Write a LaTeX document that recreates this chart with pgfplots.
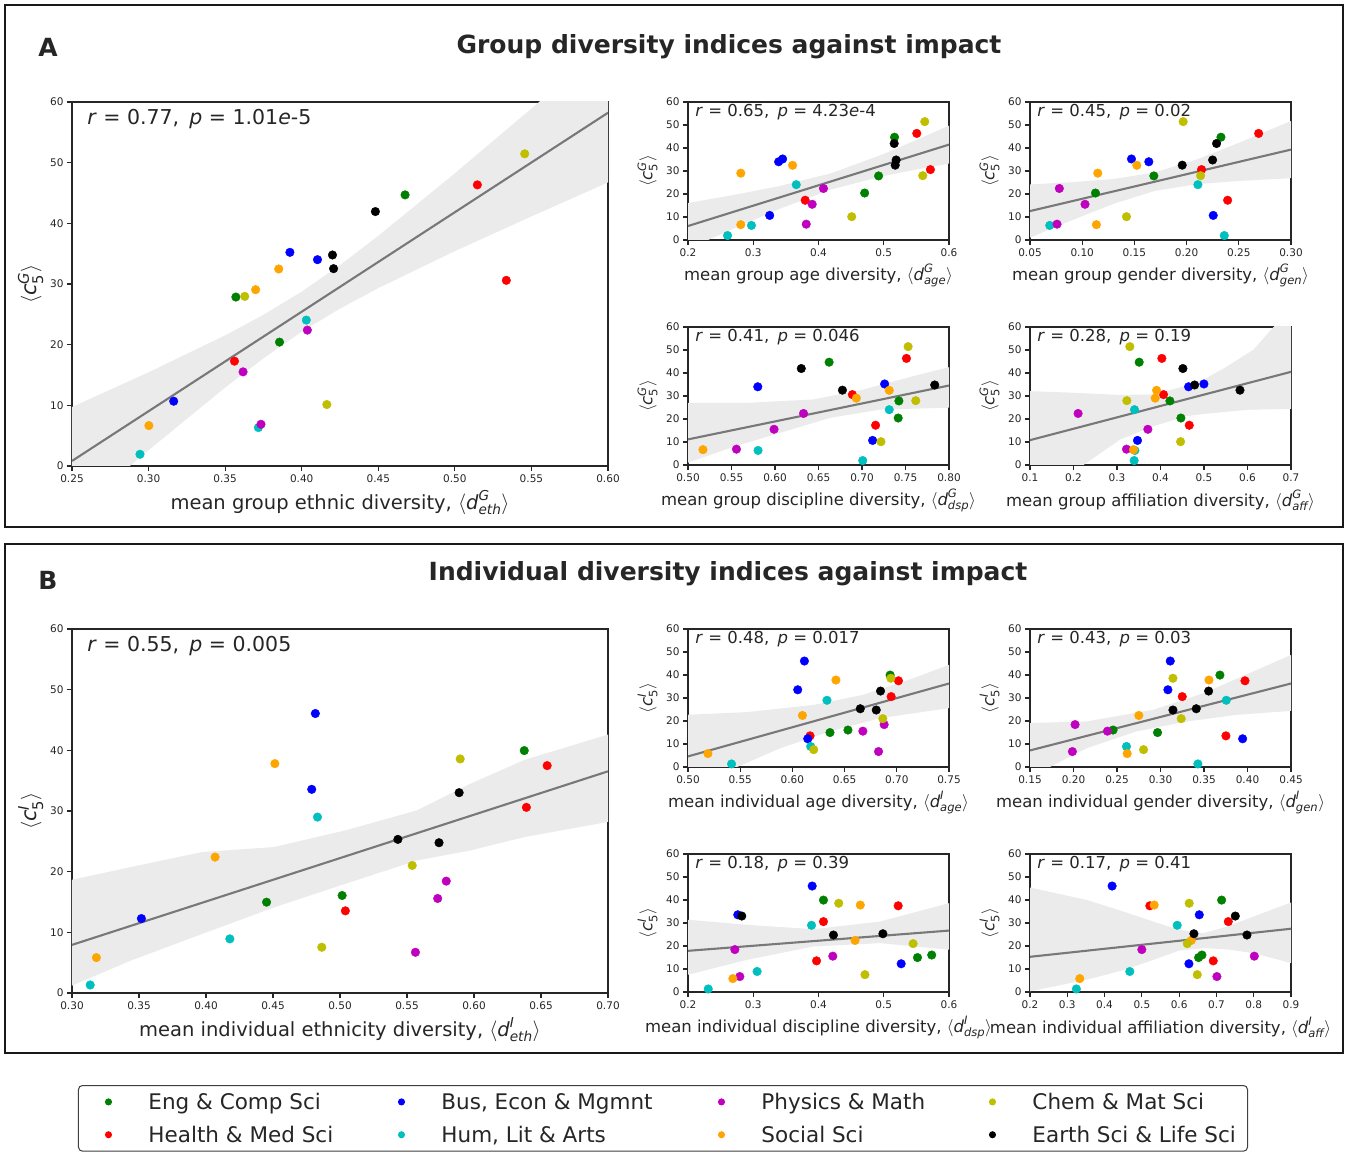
\documentclass[border=0pt]{standalone}
\usepackage{amsmath}
\usepackage{fontspec}
\setmainfont{DejaVu Sans}
\usepackage{pgfplots}
\usepackage{pgfplotstable}
\pgfplotsset{compat=1.18}

\definecolor{cg}{rgb}{0,0.5,0}
\definecolor{cr}{rgb}{1,0,0}
\definecolor{cb}{rgb}{0,0,1}
\definecolor{cc}{rgb}{0,0.75,0.75}
\definecolor{cm}{rgb}{0.75,0,0.75}
\definecolor{co}{rgb}{1,0.647,0}
\definecolor{cy}{rgb}{0.75,0.75,0}
\definecolor{ck}{rgb}{0,0,0}
\definecolor{bandc}{rgb}{0.922,0.922,0.922}
\definecolor{linec}{rgb}{0.47,0.47,0.47}

% group level: cat, <c5^G>, d_eth, d_age, d_gen, d_dsp, d_aff
\pgfplotstableread{
cat c eth age gen dsp aff
g 27.85 0.3570 0.4921 0.1686 0.7424 0.4216
g 20.42 0.3855 0.4707 0.1127 0.7416 0.4469
g 44.69 0.4675 0.5165 0.2329 0.6622 0.3510
r 17.28 0.3561 0.3796 0.2393 0.7156 0.4661
r 46.34 0.5147 0.5506 0.2690 0.7511 0.4031
r 30.60 0.5336 0.5715 0.2143 0.6889 0.4070
b 10.68 0.3164 0.3252 0.2255 0.7122 0.3471
b 35.22 0.3923 0.3450 0.1472 0.7260 0.4998
b 34.01 0.4103 0.3389 0.1638 0.5802 0.4645
c 1.93 0.2944 0.2606 0.2361 0.7008 0.3394
c 6.33 0.3717 0.2972 0.0689 0.5805 0.3410
c 24.05 0.4030 0.3659 0.2108 0.7313 0.3402
m 15.52 0.3617 0.3903 0.1027 0.5989 0.3709
m 6.88 0.3734 0.3812 0.0759 0.5557 0.3218
m 22.40 0.4037 0.4076 0.0781 0.6328 0.2105
o 6.66 0.3002 0.2809 0.1136 0.5172 0.3379
o 29.06 0.3699 0.2809 0.1149 0.6935 0.3878
o 32.47 0.3850 0.3603 0.1523 0.7313 0.3909
y 27.96 0.3628 0.5598 0.2134 0.7618 0.3226
y 10.13 0.4164 0.4509 0.1424 0.7218 0.4461
y 51.46 0.5456 0.5628 0.1967 0.7530 0.3295
k 34.78 0.4201 0.5190 0.2249 0.7836 0.4784
k 32.53 0.4208 0.5176 0.1958 0.6775 0.5827
k 41.94 0.4481 0.5160 0.2287 0.6302 0.4515
}\tabA

% individual level
\pgfplotstableread{
cat c eth age gen dsp aff
g 14.97 0.4452 0.6360 0.2966 0.5517 0.6521
g 16.07 0.5016 0.6532 0.2455 0.5735 0.6611
g 39.96 0.6375 0.6936 0.3683 0.4076 0.7139
r 13.54 0.5040 0.6169 0.3752 0.3970 0.6915
r 30.60 0.6391 0.6946 0.3250 0.4076 0.7318
r 37.48 0.6546 0.7016 0.3971 0.5221 0.5214
b 12.27 0.3518 0.6147 0.3944 0.5267 0.6262
b 46.07 0.4816 0.6115 0.3112 0.3903 0.4202
b 33.57 0.4789 0.6051 0.3085 0.2763 0.6540
c 1.32 0.3136 0.5417 0.3430 0.2310 0.3244
c 8.92 0.4178 0.6175 0.2609 0.3059 0.4677
c 29.00 0.4832 0.6331 0.3756 0.3893 0.5948
m 6.71 0.5563 0.6825 0.1987 0.2794 0.7013
m 15.58 0.5729 0.6675 0.2390 0.4219 0.8016
m 18.44 0.5793 0.6879 0.2018 0.2718 0.4999
o 5.83 0.3182 0.5191 0.2617 0.2687 0.3334
o 22.40 0.4068 0.6096 0.2751 0.4560 0.6324
o 37.81 0.4514 0.6417 0.3557 0.4641 0.5330
y 7.54 0.4864 0.6204 0.2805 0.4712 0.6486
y 21.02 0.5539 0.6866 0.3238 0.5450 0.6217
y 38.58 0.5897 0.6943 0.3143 0.4310 0.6270
k 25.32 0.5432 0.6650 0.3411 0.4987 0.6396
k 24.77 0.5739 0.6803 0.3143 0.4229 0.7819
k 33.02 0.5889 0.6844 0.3553 0.2824 0.7506
}\tabB

\newcommand\ylabA{$\langle\textit{c}^{\textit{G}}_{\text{5}}\rangle$}
\newcommand\ylabB{$\langle\textit{c}^{\textit{I}}_{\text{5}}\rangle$}
\newcommand\dl[2]{$\langle\textit{d}^{\textit{#1}}_{\textit{#2}}\rangle$}
\newcommand\ann[2]{\textit{r} = #1,\enspace\textit{p} = #2}

\pgfplotsset{
  common/.style={
    scale only axis, anchor=south west, clip=true,
    ymin=0, ymax=60, ytick={0,10,20,30,40,50,60},
    yticklabels={0,10,20,30,40,50,60},
    tick align=outside, tick pos=left, major tick length=5pt,
    tick style={draw=black!85, line width=1.1pt},
    axis line style={draw=black!85, line width=1.1pt},
    ticklabel style={font=\fontsize{10.5}{12}\selectfont, text=black!85},
    scatter/classes={
      g={mark=*,draw=cg,fill=cg}, r={mark=*,draw=cr,fill=cr},
      b={mark=*,draw=cb,fill=cb}, c={mark=*,draw=cc,fill=cc},
      m={mark=*,draw=cm,fill=cm}, o={mark=*,draw=co,fill=co},
      y={mark=*,draw=cy,fill=cy}, k={mark=*,draw=ck,fill=ck}},
  },
  bigax/.style={common, width=536pt, height=364pt,
    xlabel style={at={(axis description cs:0.5,-0.10)}, anchor=center,
      font=\fontsize{19.5}{23}\selectfont, text=black!85},
    ylabel style={at={(axis description cs:-0.077,0.5)}, anchor=center,
      font=\fontsize{21}{25}\selectfont, text=black!85}},
  smallax/.style={common, width=261pt, height=138pt,
    xlabel style={at={(axis description cs:0.5,-0.255)}, anchor=center,
      font=\fontsize{16.5}{20}\selectfont, text=black!85},
    ylabel style={at={(axis description cs:-0.155,0.5)}, anchor=center,
      font=\fontsize{16.5}{20}\selectfont, text=black!85}},
  band/.style={fill=bandc, draw=none, forget plot},
  regl/.style={color=linec, line width=2.1pt, forget plot},
  pts/.style={scatter, only marks, mark size=4.3pt, scatter src=explicit symbolic, forget plot},
  legimg/.style={only marks, mark=*, mark size=3pt,
    legend image code/.code={\path[draw=none, fill=none] (-20pt,0pt) -- (40pt,0pt);
      \draw[##1] plot coordinates {(0pt,0pt)};}},
}
\newcommand\bigann[1]{\node[anchor=west, font=\fontsize{20.5}{24}\selectfont, text=black!85] at (rel axis cs:0.022,0.953) {#1};}
\newcommand\smallann{\node[anchor=west, font=\fontsize{16.5}{19}\selectfont, text=black!85] at (rel axis cs:0.015,0.925)}
\newcommand\lt[2]{\makebox[#1][l]{\rule[-6pt]{0pt}{22pt}#2}}

\begin{document}
\begin{tikzpicture}
\useasboundingbox (0pt,0pt) rectangle (1347pt,1153pt);
\fill[white] (0pt,0pt) rectangle (1347pt,1153pt);
\draw[line width=1.4pt, black!90] (5pt,626pt) rectangle (1343pt,1148pt);
\draw[line width=1.4pt, black!90] (5pt,100pt) rectangle (1343pt,609pt);
\node[font=\fontsize{25}{30}\selectfont\bfseries, text=black!85] at (48pt,1106pt) {A};
\node[font=\fontsize{25}{30}\selectfont\bfseries, text=black!85] at (729pt,1106pt) {Group diversity indices against impact};
\node[font=\fontsize{25}{30}\selectfont\bfseries, text=black!85] at (48pt,573pt) {B};
\node[font=\fontsize{25}{30}\selectfont\bfseries, text=black!85] at (728pt,579pt) {Individual diversity indices against impact};

% ---------------- Panel A big: ethnic ----------------
\begin{axis}[bigax, at={(72pt,687pt)},
  xmin=0.25, xmax=0.60,
  xtick={0.25,0.30,0.35,0.40,0.45,0.50,0.55,0.60},
  xticklabels={0.25,0.30,0.35,0.40,0.45,0.50,0.55,0.60},
  xlabel={mean group ethnic diversity, \dl{G}{eth}},
  ylabel={\ylabA},
  legend columns=4, legend cell align=left,
  legend style={at={(axis description cs:0.01119,-1.7006)}, anchor=north west,
    draw=black!75, line width=1pt, rounded corners=4pt, fill=white,
    inner xsep=10pt, inner ysep=7.5pt, column sep=0pt, row sep=15pt,
    nodes={inner sep=0pt}, font=\fontsize{21.5}{26}\selectfont, text=black!85},
]
\addplot[band] coordinates {(0.25,9.72) (0.30,15.44) (0.35,21.53) (0.375,24.91) (0.40,28.73) (0.425,33.11) (0.45,37.93) (0.50,48.24) (0.55,58.92) (0.60,69.71)
 (0.60,46.75) (0.55,41.14) (0.50,35.42) (0.45,29.33) (0.425,25.95) (0.40,22.13) (0.375,17.75) (0.35,12.93) (0.30,2.62) (0.25,-8.06)} -- cycle;
\addplot[regl] coordinates {(0.25,0.83) (0.60,58.23)};
\addplot[pts] table[x=eth, y=c, meta=cat] {\tabA};
\bigann{\ann{0.77}{1.01\textit{e}-5}}
\addlegendimage{legimg, color=cg}\addlegendentry{\lt{233pt}{Eng \& Comp Sci}}
\addlegendimage{legimg, color=cb}\addlegendentry{\lt{260pt}{Bus, Econ \& Mgmnt}}
\addlegendimage{legimg, color=cm}\addlegendentry{\lt{211pt}{Physics \& Math}}
\addlegendimage{legimg, color=cy}\addlegendentry{\lt{205pt}{Chem \& Mat Sci}}
\addlegendimage{legimg, color=cr}\addlegendentry{\lt{233pt}{Health \& Med Sci}}
\addlegendimage{legimg, color=cc}\addlegendentry{\lt{260pt}{Hum, Lit \& Arts}}
\addlegendimage{legimg, color=co}\addlegendentry{\lt{211pt}{Social Sci}}
\addlegendimage{legimg, color=ck}\addlegendentry{\lt{205pt}{Earth Sci \& Life Sci}}
\end{axis}

% ---------------- A age ----------------
\begin{axis}[smallax, at={(688pt,913pt)},
  xmin=0.2, xmax=0.6, xtick={0.2,0.3,0.4,0.5,0.6}, xticklabels={0.2,0.3,0.4,0.5,0.6},
  xlabel={mean group age diversity, \dl{G}{age}}, ylabel={\ylabA}]
\addplot[band] coordinates {(0.2,16.05) (0.27,19.57) (0.34,23.41) (0.42,29.04) (0.50,37.40) (0.55,43.45) (0.60,49.71)
 (0.60,33.23) (0.55,30.65) (0.50,27.84) (0.42,22.04) (0.34,13.51) (0.27,4.97) (0.2,-3.91)} -- cycle;
\addplot[regl] coordinates {(0.2,6.07) (0.6,41.47)};
\addplot[pts] table[x=age, y=c, meta=cat] {\tabA};
\smallann{\ann{0.65}{4.23\textit{e}-4}};
\end{axis}

% ---------------- A gender ----------------
\begin{axis}[smallax, at={(1030pt,913pt)},
  xmin=0.05, xmax=0.30, xtick={0.05,0.10,0.15,0.20,0.25,0.30}, xticklabels={0.05,0.10,0.15,0.20,0.25,0.30},
  xlabel={mean group gender diversity, \dl{G}{gen}}, ylabel={\ylabA}]
\addplot[band] coordinates {(0.05,24.14) (0.09,25.12) (0.13,26.51) (0.17,29.40) (0.21,35.06) (0.25,42.22) (0.30,51.73)
 (0.30,26.87) (0.25,25.68) (0.21,24.28) (0.17,21.40) (0.13,15.73) (0.09,8.58) (0.05,1.00)} -- cycle;
\addplot[regl] coordinates {(0.05,12.57) (0.30,39.30)};
\addplot[pts] table[x=gen, y=c, meta=cat] {\tabA};
\smallann{\ann{0.45}{0.02}};
\end{axis}

% ---------------- A discipline ----------------
\begin{axis}[smallax, at={(688pt,688pt)},
  xmin=0.50, xmax=0.80, xtick={0.50,0.55,0.60,0.65,0.70,0.75,0.80}, xticklabels={0.50,0.55,0.60,0.65,0.70,0.75,0.80},
  xlabel={mean group discipline diversity, \dl{G}{dsp}}, ylabel={\ylabA}]
\addplot[band] coordinates {(0.50,27.0) (0.5679,27.0) (0.6443,28.5) (0.7015,32.8) (0.7588,38.6) (0.80,42.5)
 (0.80,24.9) (0.7206,24.1) (0.6634,20.5) (0.6061,14.0) (0.5489,7.5) (0.50,1.0)} -- cycle;
\addplot[regl] coordinates {(0.5,11.13) (0.8,34.55)};
\addplot[pts] table[x=dsp, y=c, meta=cat] {\tabA};
\smallann{\ann{0.41}{0.046}};
\end{axis}

% ---------------- A affiliation ----------------
\begin{axis}[smallax, at={(1030pt,688pt)},
  xmin=0.1, xmax=0.7, xtick={0.1,0.2,0.3,0.4,0.5,0.6,0.7}, xticklabels={0.1,0.2,0.3,0.4,0.5,0.6,0.7},
  xlabel={mean group affiliation diversity, \dl{G}{aff}}, ylabel={\ylabA}]
\addplot[band] coordinates {(0.1,32.1) (0.2,31.4) (0.3,30.5) (0.384,30.6) (0.45,34.0) (0.5,37.2) (0.55,42.5) (0.6142,50.2) (0.66,60) (0.7,68.5)
 (0.7,24.4) (0.6,24.0) (0.5,22.2) (0.4607,21.25) (0.384,16.9) (0.3072,11.1) (0.2228,0) (0.1,-16)} -- cycle;
\addplot[regl] coordinates {(0.1,10.8) (0.7,40.5)};
\addplot[pts] table[x=aff, y=c, meta=cat] {\tabA};
\smallann{\ann{0.28}{0.19}};
\end{axis}

% ---------------- Panel B big: ethnicity ----------------
\begin{axis}[bigax, at={(72pt,160pt)},
  xmin=0.30, xmax=0.70,
  xtick={0.30,0.35,0.40,0.45,0.50,0.55,0.60,0.65,0.70},
  xticklabels={0.30,0.35,0.40,0.45,0.50,0.55,0.60,0.65,0.70},
  xlabel={mean individual ethnicity diversity, \dl{I}{eth}},
  ylabel={\ylabB}]
\addplot[band] coordinates {(0.30,18.66) (0.3438,20.75) (0.3972,23.23) (0.4506,24.05) (0.504,26.8) (0.5574,30.1) (0.5974,34.5) (0.6375,38.4) (0.70,42.6)
 (0.70,28.2) (0.6375,25.7) (0.5974,23.5) (0.5574,21.85) (0.504,18.0) (0.4506,14.1) (0.3972,9.74) (0.3438,5.34) (0.30,1.21)} -- cycle;
\addplot[regl] coordinates {(0.30,7.93) (0.70,36.54)};
\addplot[pts] table[x=eth, y=c, meta=cat] {\tabB};
\bigann{\ann{0.55}{0.005}}
\end{axis}

% ---------------- B age ----------------
\begin{axis}[smallax, at={(688pt,386pt)},
  xmin=0.50, xmax=0.75, xtick={0.50,0.55,0.60,0.65,0.70,0.75}, xticklabels={0.50,0.55,0.60,0.65,0.70,0.75},
  xlabel={mean individual age diversity, \dl{I}{age}}, ylabel={\ylabB}]
\addplot[band] coordinates {(0.50,22.7) (0.5567,23.85) (0.6204,27.0) (0.6682,31.4) (0.7159,38.6) (0.75,44.4)
 (0.75,25.6) (0.684,21.25) (0.6363,15.5) (0.5885,8.2) (0.5471,0) (0.50,-9.3)} -- cycle;
\addplot[regl] coordinates {(0.5,4.6) (0.75,36.3)};
\addplot[pts] table[x=age, y=c, meta=cat] {\tabB};
\smallann{\ann{0.48}{0.017}};
\end{axis}

% ---------------- B gender ----------------
\begin{axis}[smallax, at={(1030pt,386pt)},
  xmin=0.15, xmax=0.45, xtick={0.15,0.20,0.25,0.30,0.35,0.40,0.45}, xticklabels={0.15,0.20,0.25,0.30,0.35,0.40,0.45},
  xlabel={mean individual gender diversity, \dl{I}{gen}}, ylabel={\ylabB}]
\addplot[band] coordinates {(0.15,19.1) (0.2152,19.8) (0.292,24.9) (0.3496,32.1) (0.45,48.7)
 (0.45,24.4) (0.3879,22.7) (0.3303,19.8) (0.2728,15.5) (0.2152,8.2) (0.173,0) (0.15,-4.5)} -- cycle;
\addplot[regl] coordinates {(0.15,7.2) (0.45,36.3)};
\addplot[pts] table[x=gen, y=c, meta=cat] {\tabB};
\smallann{\ann{0.43}{0.03}};
\end{axis}

% ---------------- B discipline ----------------
\begin{axis}[smallax, at={(688pt,161pt)},
  xmin=0.2, xmax=0.6, xtick={0.2,0.3,0.4,0.5,0.6}, xticklabels={0.2,0.3,0.4,0.5,0.6},
  xlabel={mean individual discipline diversity, \dl{I}{dsp}}, ylabel={\ylabB}]
\addplot[band] coordinates {(0.2,31.4) (0.2906,29.2) (0.3924,27.3) (0.4941,30.6) (0.6,38.6)
 (0.6,18.4) (0.4941,21.25) (0.3924,19.8) (0.2906,14.0) (0.2,7.5)} -- cycle;
\addplot[regl] coordinates {(0.2,17.9) (0.6,26.7)};
\addplot[pts] table[x=dsp, y=c, meta=cat] {\tabB};
\smallann{\ann{0.18}{0.39}};
\end{axis}

% ---------------- B affiliation ----------------
\begin{axis}[smallax, at={(1030pt,161pt)},
  xmin=0.2, xmax=0.9, xtick={0.2,0.3,0.4,0.5,0.6,0.7,0.8,0.9}, xticklabels={0.2,0.3,0.4,0.5,0.6,0.7,0.8,0.9},
  xlabel={mean individual affiliation diversity, \dl{I}{aff}}, ylabel={\ylabB}]
\addplot[band] coordinates {(0.2,45.4) (0.3522,40.0) (0.45,35.0) (0.5312,30.6) (0.6,27.0) (0.6655,25.6) (0.73,28.5) (0.7998,32.8) (0.9,38.9)
 (0.9,12.6) (0.7998,16.9) (0.73,18.5) (0.6655,19.1) (0.6,18.0) (0.5312,14.0) (0.45,9.5) (0.3522,5.35) (0.2,0.3)} -- cycle;
\addplot[regl] coordinates {(0.2,15.3) (0.9,27.5)};
\addplot[pts] table[x=aff, y=c, meta=cat] {\tabB};
\smallann{\ann{0.17}{0.41}};
\end{axis}
\end{tikzpicture}
\end{document}
